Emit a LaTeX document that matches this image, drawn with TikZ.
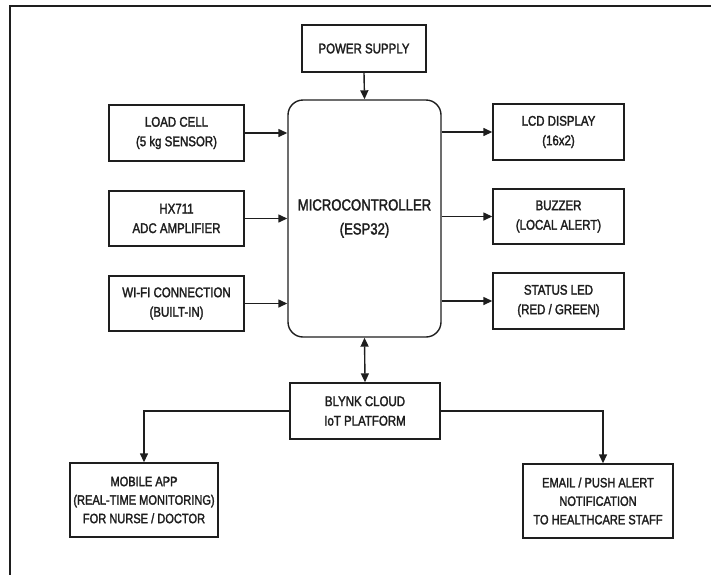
\documentclass[tikz,border=0pt]{standalone}
\usepackage{fontspec}
\setmainfont{Liberation Sans}[FakeStretch=0.82,FakeBold=2]
\usetikzlibrary{arrows.meta,calc}
\definecolor{ink}{HTML}{1E1E1E}
\begin{document}
\begin{tikzpicture}[x=1pt,y=-1pt,
  box/.style={draw=ink,line width=1.4pt,align=center,text=ink,inner sep=0pt,
    font=\fontsize{14}{19.5}\selectfont},
  mcubox/.style={box,rounded corners=15pt,font=\fontsize{16}{24}\selectfont},
  conn/.style={draw=ink,line width=1.4pt,-{Triangle[length=9pt,width=8pt]}},
  biconn/.style={draw=ink,line width=1.4pt,{Triangle[length=9pt,width=8pt]}-{Triangle[length=9pt,width=8pt]}}]
\useasboundingbox (0,0) rectangle (711,574);
\begin{scope}
\clip (0,0) rectangle (711,574);
\draw[ink,line width=2pt] (10,6) rectangle (730,600);
\end{scope}
\node[box,minimum width=124pt,minimum height=47pt] (power) at (364,48.5) {POWER SUPPLY};
\node[mcubox,minimum width=153pt,minimum height=237pt] (mcu) at (364.5,218.5) {MICROCONTROLLER\\(ESP32)};
\node[box,minimum width=135pt,minimum height=56pt] (load) at (176.5,133) {LOAD CELL\\(5 kg SENSOR)};
\node[box,minimum width=135pt,minimum height=55pt] (hx) at (176.5,218.5) {HX711\\ADC AMPLIFIER};
\node[box,minimum width=135pt,minimum height=55pt] (wifi) at (176.5,303.5) {WI-FI CONNECTION\\(BUILT-IN)};
\node[box,minimum width=131pt,minimum height=56pt] (lcd) at (558.5,132) {LCD DISPLAY\\(16x2)};
\node[box,minimum width=131pt,minimum height=55pt] (buzzer) at (558.5,216.5) {BUZZER\\(LOCAL ALERT)};
\node[box,minimum width=131pt,minimum height=56pt] (status) at (558.5,301) {STATUS LED\\(RED / GREEN)};
\node[box,minimum width=150pt,minimum height=56pt] (blynk) at (365,411) {BLYNK CLOUD\\IoT PLATFORM};
\node[box,minimum width=148pt,minimum height=74pt,font=\fontsize{13.5}{18.5}\selectfont] (mobile) at (144,500) {MOBILE APP\\(REAL-TIME MONITORING)\\FOR NURSE / DOCTOR};
\node[box,minimum width=150pt,minimum height=74pt,font=\fontsize{13.5}{18.5}\selectfont] (email) at (598,501) {EMAIL / PUSH ALERT\\NOTIFICATION\\TO HEALTHCARE STAFF};
\coordinate (emailin) at ($(email.north)+(5,0)$);
\draw[conn] (power.south) -- (mcu.north);
\draw[conn] (load.east) -- (load.east -| mcu.west);
\draw[conn] (hx.east) -- (hx.east -| mcu.west);
\draw[conn] (wifi.east) -- (wifi.east -| mcu.west);
\draw[conn] (mcu.east |- lcd.west) -- (lcd.west);
\draw[conn] (mcu.east |- buzzer.west) -- (buzzer.west);
\draw[conn] (mcu.east |- status.west) -- (status.west);
\draw[biconn] (mcu.south) -- (blynk.north);
\draw[conn] (blynk.west) -| (mobile.north);
\draw[conn] (blynk.east) -| (emailin);
\end{tikzpicture}
\end{document}
